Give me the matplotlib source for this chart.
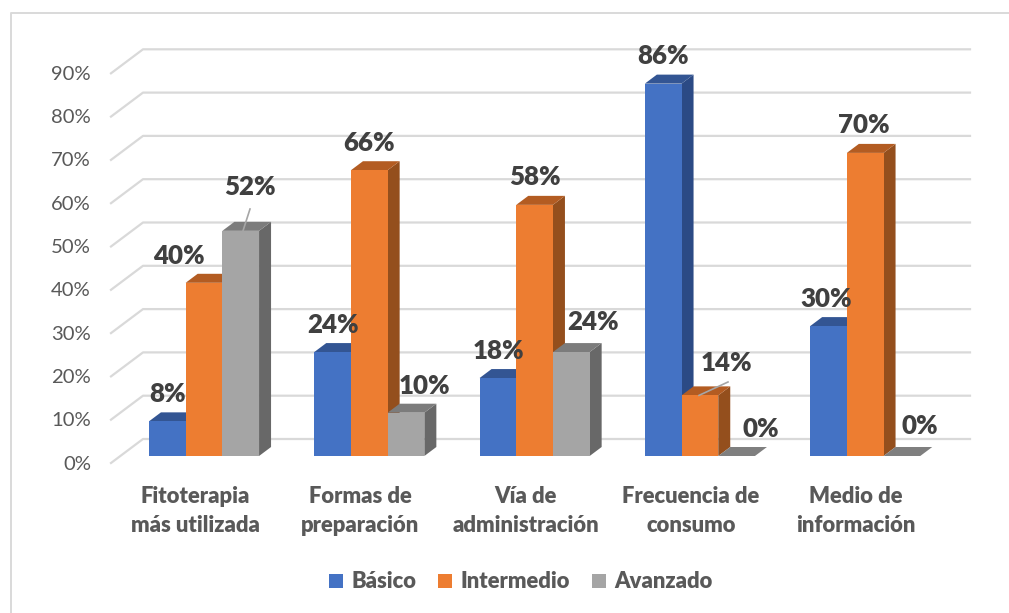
import matplotlib
matplotlib.use('Agg')
import matplotlib.pyplot as plt
from matplotlib.patches import Polygon, Patch, Rectangle

categorias = ['Fitoterapia\nmás utilizada', 'Formas de\npreparación', 'Vía de\nadministración',
              'Frecuencia de\nconsumo', 'Medio de\ninformación']
basico = [8, 24, 18, 86, 30]
intermedio = [40, 66, 58, 14, 70]
avanzado = [52, 10, 24, 0, 0]
ticks = [0, 10, 20, 30, 40, 50, 60, 70, 80, 90]

plt.rcParams['font.family'] = ['Lato', 'DejaVu Sans']

W, H = 1009, 613
GROUP = 165.3    # px per category
PY = 4.33        # px per percent
X0 = 204.0       # px of first group centre
Y0 = 456.0       # px of the zero line, front of the bars


def px(x):
    return (x - X0) / GROUP


def py(y):
    return (Y0 - y) / PY


fig = plt.figure(figsize=(W / 100, H / 100), dpi=100)
ax = fig.add_axes([0, 0, 1, 1])
ax.set_xlim(px(0), px(W))
ax.set_ylim(py(H), py(0))
ax.axis('off')

# box depth in data units
dx = 12 / GROUP
dy = 9 / PY
bw = 36.7 / GROUP

# chart frame, only top and left show in the crop
ax.plot([px(10.5), px(10.5), px(1009)], [py(613), py(12.5), py(12.5)], color='#d9d9d9', lw=1.4)

# back wall grid and side wall
for t in ticks:
    ax.plot([px(111), px(143), px(970)],
            [t + py(463), t + py(439), t + py(439)], color='#d9d9d9', lw=1.6, zorder=1)
    ax.text(px(91), t + py(464), f'{t}%', ha='right', va='center', fontsize=14.6, color='#595959')

series = [
    (basico, '#4472C4', '#335593', '#2B4A85', 'Básico'),
    (intermedio, '#ED7D31', '#B35C22', '#944F1D', 'Intermedio'),
    (avanzado, '#A5A5A5', '#7C7C7C', '#686868', 'Avanzado'),
]

for s, (vals, front, top, side, nombre) in enumerate(series):
    for i, v in enumerate(vals):
        x = i - 1.5 * bw + s * bw
        z = 3 + s
        if v == 0:
            ax.add_patch(Polygon([(x, 0), (x + bw, 0), (x + bw + dx, dy), (x + dx, dy)],
                                 fc='#7F7F7F', ec='none', zorder=z))
            continue
        ax.add_patch(Polygon([(x + bw, 0), (x + bw + dx, dy), (x + bw + dx, v + dy), (x + bw, v)],
                             fc=side, ec='none', zorder=z))
        ax.add_patch(Polygon([(x, v), (x + bw, v), (x + bw + dx, v + dy), (x + dx, v + dy)],
                             fc=top, ec='none', zorder=z))
        ax.add_patch(Rectangle((x, 0), bw, v, fc=front, ec='none', zorder=z))

# label offsets from the front top centre of each bar, px
offs_basico = [(0, 27), (0, 27), (1, 27), (0, 28), (-2, 27)]
offs_intermedio = [(-25, 27), (0, 27), (0, 28), (27, 32), (-1, 28)]
offs_avanzado = [(9, 44), (18, 27), (22, 30), (24, 27), (18, 30)]

for s, offs in enumerate([offs_basico, offs_intermedio, offs_avanzado]):
    vals = series[s][0]
    for i, v in enumerate(vals):
        x = i - 1.5 * bw + s * bw + bw / 2
        ax.annotate(f'{v}%', (x, v), xytext=(offs[i][0] * 0.72, offs[i][1] * 0.72),
                    textcoords='offset points', ha='center', va='center',
                    fontsize=18.6, fontweight='heavy', color='#404040', zorder=10)

# leader lines of the moved labels
ax.plot([px(243), px(250)], [avanzado[0], py(209)], color='#A6A6A6', lw=1.2, zorder=9)
ax.plot([px(699), px(728)], [intermedio[3], py(382)], color='#A6A6A6', lw=1.2, zorder=9)

for i, c in enumerate(categorias):
    ax.text(px(195 + GROUP * i), py(511), c, ha='center', va='center', fontsize=15.8,
            fontweight='heavy', color='#595959', linespacing=1.44)

handles = [Patch(fc=s[1], ec='none', label=s[4]) for s in series]
ax.legend(handles=handles, loc='center', bbox_to_anchor=(521 / W, 1 - 582 / H), ncol=3, frameon=False,
          prop={'size': 15.8, 'weight': 'heavy'}, labelcolor='#595959', handlelength=0.62, handleheight=0.62,
          handletextpad=0.4, columnspacing=1.0)

fig.savefig('out.png', dpi=100, facecolor='white')
